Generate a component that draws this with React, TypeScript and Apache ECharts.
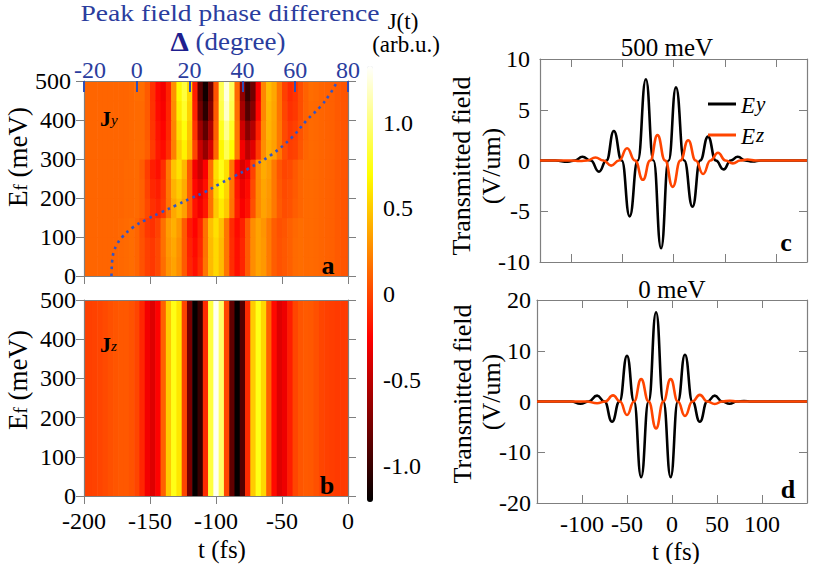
import React, { useEffect, useRef } from 'react';
import * as echarts from 'echarts';

const FONT = "'Liberation Serif', 'Times New Roman', serif";
const GRAY = '#7f7f7f';
const BLUE = '#2b3d9e';
const TICKBLUE = '#2f4fb8';
const ORANGE = '#ff4500';

// ---- heat-map grid (t in fs, Ef in meV) ----
const T_GRID = [-200,-196,-192,-188,-184,-180,-176,-172,-168,-164,-160,-156,-152,-148,-144,-140,-136,-132,-128,-124,-120,-116,-112,-108,-104,-100,-96,-92,-88,-84,-80,-76,-72,-68,-64,-60,-56,-52,-48,-44,-40,-36,-32,-28,-24,-20,-16,-12,-8,-4,0];
const EF_ROWS = [25, 75, 125, 175, 225, 275, 325, 375, 425, 475];

// Jz(t): same for every Ef
const JZ_ROW = [-0.02,-0.02,-0.01,0.0,0.02,0.04,0.06,0.07,0.07,0.05,0.0,-0.12,-0.3,-0.38,-0.25,0.1,0.5,0.75,0.6,0.0,-0.75,-1.2,-1.0,-0.1,0.85,1.3,0.95,0.0,-0.85,-1.2,-0.9,-0.1,0.5,0.75,0.55,0.1,-0.22,-0.38,-0.32,-0.15,0.0,0.06,0.08,0.07,0.04,0.0,-0.02,-0.03,-0.04,-0.04,-0.04];

// Jy(t) rows, one per Ef band
const JY_025 = [0.12,0.12,0.12,0.12,0.12,0.12,0.12,0.13,0.14,0.15,0.12,0.05,-0.02,-0.05,0.01,0.15,0.29,0.35,0.27,0.08,-0.12,-0.2,-0.09,0.18,0.44,0.55,0.44,0.18,-0.09,-0.2,-0.12,0.08,0.27,0.35,0.31,0.2,0.09,0.05,0.07,0.1,0.14,0.15,0.14,0.14,0.13,0.12,0.11,0.1,0.08,0.06,0.05];
const JY_075 = [0.12,0.12,0.12,0.12,0.12,0.12,0.12,0.13,0.14,0.15,0.12,0.05,-0.02,-0.05,0.01,0.16,0.31,0.37,0.28,0.08,-0.13,-0.22,-0.11,0.17,0.44,0.55,0.44,0.18,-0.09,-0.2,-0.12,0.08,0.27,0.35,0.31,0.2,0.09,0.05,0.07,0.1,0.14,0.15,0.14,0.14,0.13,0.12,0.11,0.1,0.08,0.06,0.05];
const JY_125 = [0.12,0.12,0.12,0.12,0.12,0.12,0.12,0.13,0.14,0.15,0.12,0.04,-0.05,-0.08,-0.01,0.16,0.33,0.4,0.31,0.08,-0.16,-0.25,-0.13,0.17,0.46,0.58,0.46,0.18,-0.1,-0.22,-0.14,0.07,0.27,0.35,0.3,0.2,0.09,0.04,0.06,0.1,0.13,0.15,0.14,0.14,0.13,0.12,0.11,0.1,0.08,0.06,0.05];
const JY_175 = [0.12,0.12,0.12,0.12,0.12,0.12,0.12,0.12,0.13,0.13,0.14,0.1,0.01,-0.08,-0.12,-0.04,0.17,0.37,0.45,0.34,0.08,-0.19,-0.3,-0.17,0.16,0.49,0.62,0.49,0.17,-0.15,-0.28,-0.19,0.04,0.26,0.35,0.3,0.19,0.08,0.03,0.05,0.09,0.12,0.14,0.14,0.13,0.12,0.11,0.1,0.08,0.06,0.05];
const JY_225 = [0.12,0.12,0.12,0.12,0.12,0.12,0.12,0.12,0.13,0.13,0.14,0.1,-0.01,-0.11,-0.15,-0.06,0.18,0.41,0.5,0.38,0.08,-0.23,-0.35,-0.2,0.17,0.53,0.68,0.53,0.18,-0.17,-0.32,-0.22,0.02,0.26,0.36,0.31,0.19,0.07,0.02,0.04,0.08,0.12,0.14,0.14,0.13,0.12,0.11,0.1,0.08,0.06,0.05];
const JY_275 = [0.12,0.12,0.12,0.12,0.12,0.12,0.12,0.12,0.13,0.13,0.14,0.09,-0.03,-0.15,-0.2,-0.09,0.19,0.47,0.58,0.43,0.07,-0.3,-0.45,-0.27,0.15,0.57,0.75,0.58,0.18,-0.23,-0.4,-0.29,-0.01,0.27,0.38,0.33,0.19,0.06,0.0,0.02,0.07,0.12,0.14,0.14,0.13,0.12,0.11,0.1,0.08,0.06,0.05];
const JY_325 = [0.12,0.12,0.12,0.12,0.12,0.12,0.12,0.12,0.12,0.13,0.14,0.14,0.09,-0.04,-0.17,-0.22,-0.09,0.22,0.52,0.65,0.46,0.0,-0.46,-0.65,-0.42,0.13,0.67,0.9,0.7,0.2,-0.3,-0.5,-0.37,-0.05,0.27,0.4,0.34,0.19,0.03,-0.03,-0.01,0.06,0.12,0.14,0.13,0.12,0.11,0.1,0.08,0.06,0.05];
const JY_375 = [0.12,0.12,0.12,0.12,0.12,0.12,0.12,0.12,0.12,0.13,0.14,0.14,0.08,-0.06,-0.19,-0.25,-0.11,0.24,0.58,0.72,0.49,-0.07,-0.62,-0.85,-0.57,0.1,0.77,1.05,0.79,0.18,-0.44,-0.7,-0.54,-0.14,0.26,0.42,0.35,0.19,0.02,-0.05,-0.02,0.05,0.11,0.14,0.13,0.12,0.11,0.1,0.08,0.06,0.05];
const JY_425 = [0.12,0.12,0.12,0.12,0.12,0.12,0.12,0.12,0.12,0.13,0.14,0.14,0.08,-0.07,-0.22,-0.28,-0.12,0.26,0.64,0.8,0.53,-0.13,-0.78,-1.05,-0.72,0.08,0.87,1.2,0.89,0.15,-0.59,-0.9,-0.71,-0.24,0.24,0.43,0.36,0.18,0.0,-0.08,-0.05,0.03,0.11,0.14,0.13,0.12,0.11,0.1,0.08,0.06,0.05];
const JY_475 = [0.12,0.12,0.12,0.12,0.12,0.12,0.12,0.12,0.12,0.13,0.15,0.15,0.08,-0.08,-0.23,-0.3,-0.13,0.28,0.68,0.85,0.56,-0.15,-0.86,-1.15,-0.8,0.05,0.9,1.25,0.92,0.13,-0.67,-1.0,-0.79,-0.28,0.24,0.45,0.37,0.18,-0.02,-0.1,-0.06,0.03,0.11,0.15,0.14,0.12,0.11,0.1,0.08,0.06,0.05];
const JY_ROWS = [JY_025, JY_075, JY_125, JY_175, JY_225, JY_275, JY_325, JY_375, JY_425, JY_475];

// dotted curve: [phase difference (deg), Ef (meV)]
const PHASE_CURVE = [[-9.6,0],[-9.5,20],[-9.3,40],[-8.8,60],[-7.6,80],[-5.5,100],[-1.6,124],[3.7,145],[9.2,163],[14.8,181],[20.4,199],[26,216],[31.3,236],[37,256],[42.2,275],[50.8,310],[58.7,355],[64.3,399],[69.5,434],[73.3,468],[76,500]];

// transmitted fields [t (fs), V/um]
const C_EY = [[-130,0],[-115,0],[-103,-0.12],[-96,0],[-88.7,0.37],[-80.6,0],[-72.6,-1.1],[-65.3,0],[-58.1,2.9],[-50.4,0],[-42.7,-5.5],[-34.8,0],[-26.9,8.0],[-19.5,0],[-12.1,-8.65],[-4.8,0],[2.4,7.2],[10.4,0],[18.5,-4.55],[26,0],[33.6,2.35],[41.2,0],[48.8,-0.87],[55.7,0],[62.6,0.37],[69.8,0],[77,-0.1],[85,0],[130,0]];
const C_EZ = [[-130,0],[-100,0],[-91,-0.05],[-84,0],[-76,0.3],[-68.2,0],[-60.7,-0.5],[-53,0],[-45.2,1.2],[-37.5,0],[-29.8,-1.9],[-22.7,0],[-15.6,2.5],[-8.2,0],[-0.8,-2.6],[6.8,0],[14.3,2.0],[21.6,0],[28.8,-1.33],[36,0],[43.3,0.77],[50.6,0],[57.8,-0.28],[65,0],[72,0.1],[80,0],[130,0]];
const D_EY = [[-150,0],[-112,0],[-101.7,-0.45],[-92.5,0],[-83.2,1.15],[-75,0],[-66.6,-4.0],[-58.3,0],[-50,9.0],[-42.2,0],[-34.3,-14.9],[-26,0],[-17.7,17.6],[-9.6,0],[-1.5,-14.9],[6.5,0],[14.4,9.2],[22.7,0],[30.9,-4.0],[39.2,0],[47.5,1.15],[55.8,0],[64,-0.45],[72,0],[80,0.08],[88,0],[150,0]];
const D_EZ = [[-150,0],[-95,0],[-83.2,-0.35],[-74.3,0],[-65.5,1.2],[-57.8,0],[-50,-2.65],[-42.2,0],[-34.3,4.4],[-26,0],[-17.7,-5.3],[-9.6,0],[-1.5,4.4],[6.5,0],[14.4,-2.85],[22.7,0],[30.9,1.3],[39.2,0],[47.5,-0.5],[55.8,0],[64,0.15],[72,0],[150,0]];

const CB_TICKS = [-1, -0.5, 0, 0.5, 1];
const RIGHT_T_TICKS = [-100, -50, 0, 50, 100];
const HOT = ['#000000', '#550000', '#aa0000', '#ff0000', '#ff5500', '#ffaa00', '#ffff00', '#ffff80', '#ffffff'];

function buildOption() {
  const jyData: number[][] = [];
  JY_ROWS.forEach((row, r) => row.forEach((v, i) => jyData.push([T_GRID[i], EF_ROWS[r], v, 25])));
  const jzData = JZ_ROW.map((v, i) => [T_GRID[i], 250, v, 250]);

  const cell = (params: any, api: any) => {
    const t = api.value(0), ef = api.value(1), h = api.value(3);
    const a = api.coord([t - 2, ef + h]);
    const b = api.coord([t + 2, ef - h]);
    return {
      type: 'rect',
      shape: { x: a[0], y: a[1], width: b[0] - a[0] + 0.6, height: b[1] - a[1] + 0.6 },
      style: { fill: api.visual('color') },
    };
  };

  const line = (show = true) => ({ show, onZero: false, lineStyle: { color: GRAY, width: 1.2 } });
  const tick = (inside: boolean, length: number, extra: any = {}) => ({ show: true, inside, length, lineStyle: { color: GRAY, width: 1 }, ...extra });
  const lab = (margin: number, extra: any = {}) => ({ show: true, margin, fontSize: 24, lineHeight: 18, fontFamily: FONT, color: '#000', showMinLabel: true, showMaxLabel: true, ...extra });
  const noLab = { show: false };
  const noSplit = { show: false };

  const txt = (x: number, y: number, text: string, style: any = {}, extra: any = {}) => ({
    type: 'text', x, y, silent: true, z: 100, ...extra,
    style: { text, fontFamily: FONT, fontSize: 25, lineHeight: 20, fill: '#000', align: 'center', verticalAlign: 'middle', ...style },
  });

  const efRich = {
    e: { fontFamily: FONT, fontSize: 27, lineHeight: 26, verticalAlign: 'top', fill: '#000' },
    s: { fontFamily: FONT, fontSize: 19, lineHeight: 18, padding: [14, 0, 0, 0], verticalAlign: 'bottom', fill: '#000' },
  };
  const jRich = {
    j: { fontFamily: FONT, fontSize: 22, fontWeight: 'bold', lineHeight: 20, verticalAlign: 'top', fill: '#000' },
    s: { fontFamily: FONT, fontSize: 15, fontStyle: 'italic', lineHeight: 14, padding: [17, 0, 0, 0], verticalAlign: 'bottom', fill: '#000' },
  };

  // corner labels of panel a nudged apart so "-20" and "500" do not collide
  const topLabel = lab(2, {
    color: BLUE,
    formatter: (v: number) => (v === -20 ? '{m|-20}' : String(v)),
    rich: { m: { fontFamily: FONT, fontSize: 24, lineHeight: 18, color: BLUE, padding: [0, 0, 0, 12] } },
  });
  const leftLabelA = lab(8, {
    formatter: (v: number) => (v === 500 ? '{p|500}' : String(v)),
    rich: { p: { fontFamily: FONT, fontSize: 24, lineHeight: 18, color: '#000', padding: [0, 5, 0, 0] } },
  });

  return {
    animation: false,
    backgroundColor: '#ffffff',
    textStyle: { fontFamily: FONT },
    grid: [
      { left: 84, top: 81, width: 264, height: 195, outerBoundsMode: 'none' },
      { left: 84, top: 300, width: 264, height: 196, outerBoundsMode: 'none' },
      { left: 540, top: 59, width: 267, height: 203, outerBoundsMode: 'none' },
      { left: 537, top: 300, width: 270, height: 203, outerBoundsMode: 'none' },
      { left: 367, top: 66, width: 6, height: 436, outerBoundsMode: 'none' },
    ],
    xAxis: [
      { gridIndex: 0, type: 'value', min: -200, max: 0, interval: 50, position: 'bottom', z: 10, axisLine: line(), axisTick: tick(false, 8), axisLabel: noLab, splitLine: noSplit },
      { gridIndex: 0, type: 'value', min: -20, max: 80, interval: 20, position: 'top', z: 10, axisLine: line(), axisTick: { show: true, inside: true, length: 11, lineStyle: { color: TICKBLUE, width: 2 } }, axisLabel: topLabel, splitLine: noSplit },
      { gridIndex: 1, type: 'value', min: -200, max: 0, interval: 50, position: 'bottom', z: 10, axisLine: line(), axisTick: tick(false, 8), axisLabel: lab(16), splitLine: noSplit },
      { gridIndex: 1, type: 'value', min: -200, max: 0, interval: 50, position: 'top', z: 10, axisLine: line(), axisTick: { show: false }, axisLabel: noLab, splitLine: noSplit },
      { gridIndex: 2, type: 'value', min: -130, max: 130, position: 'bottom', axisLine: line(), axisTick: tick(true, 8, { customValues: RIGHT_T_TICKS }), axisLabel: noLab, splitLine: noSplit },
      { gridIndex: 2, type: 'value', min: -130, max: 130, position: 'top', axisLine: line(), axisTick: tick(true, 8, { customValues: RIGHT_T_TICKS }), axisLabel: noLab, splitLine: noSplit },
      { gridIndex: 3, type: 'value', min: -150, max: 150, position: 'bottom', axisLine: line(), axisTick: tick(true, 8, { customValues: RIGHT_T_TICKS }), axisLabel: lab(12, { customValues: RIGHT_T_TICKS }), splitLine: noSplit },
      { gridIndex: 3, type: 'value', min: -150, max: 150, position: 'top', axisLine: line(), axisTick: tick(true, 8, { customValues: RIGHT_T_TICKS }), axisLabel: noLab, splitLine: noSplit },
      { gridIndex: 4, type: 'value', min: 0, max: 1, show: false },
    ],
    yAxis: [
      { gridIndex: 0, type: 'value', min: 0, max: 500, interval: 100, position: 'left', z: 10, axisLine: line(), axisTick: tick(false, 8), axisLabel: leftLabelA, splitLine: noSplit },
      { gridIndex: 0, type: 'value', min: 0, max: 500, interval: 100, position: 'right', z: 10, axisLine: line(), axisTick: tick(false, 8), axisLabel: noLab, splitLine: noSplit },
      { gridIndex: 1, type: 'value', min: 0, max: 500, interval: 100, position: 'left', z: 10, axisLine: line(), axisTick: tick(false, 8), axisLabel: lab(8), splitLine: noSplit },
      { gridIndex: 1, type: 'value', min: 0, max: 500, interval: 100, position: 'right', z: 10, axisLine: line(), axisTick: tick(false, 8), axisLabel: noLab, splitLine: noSplit },
      { gridIndex: 2, type: 'value', min: -10, max: 10, interval: 5, position: 'left', axisLine: line(), axisTick: tick(true, 8), axisLabel: lab(10), splitLine: noSplit },
      { gridIndex: 2, type: 'value', min: -10, max: 10, interval: 5, position: 'right', axisLine: line(), axisTick: tick(true, 8), axisLabel: noLab, splitLine: noSplit },
      { gridIndex: 3, type: 'value', min: -20, max: 20, interval: 10, position: 'left', axisLine: line(), axisTick: tick(true, 8), axisLabel: lab(6), splitLine: noSplit },
      { gridIndex: 3, type: 'value', min: -20, max: 20, interval: 10, position: 'right', axisLine: line(), axisTick: tick(true, 8), axisLabel: noLab, splitLine: noSplit },
      { gridIndex: 4, type: 'value', min: -1.21, max: 1.33, position: 'right', axisLine: { show: false },
        axisTick: tick(false, 4, { customValues: CB_TICKS }),
        axisLabel: lab(10, { customValues: CB_TICKS, formatter: (v: number) => (v === 0 ? '0' : v.toFixed(1)) }), splitLine: noSplit },
    ],
    visualMap: {
      type: 'continuous', min: -1.21, max: 1.33, dimension: 2, seriesIndex: [0, 1],
      inRange: { color: HOT }, show: true, calculable: false, hoverLink: false,
      left: 367, top: 66, itemWidth: 6, itemHeight: 436, padding: 0, orient: 'vertical',
    },
    legend: {
      data: ['Ey', 'Ez'], orient: 'vertical', left: 708, top: 86, itemWidth: 28, itemHeight: 3, itemGap: 0,
      icon: 'rect', padding: 0, selectedMode: false,
      formatter: (n: string) => (n === 'Ey' ? '{e|E}{s|y}' : '{e|E}{s|z}'),
      textStyle: {
        fontFamily: FONT, color: '#000',
        rich: {
          e: { fontFamily: FONT, fontSize: 23, fontStyle: 'italic', lineHeight: 20, verticalAlign: 'top', color: '#000' },
          s: { fontFamily: FONT, fontSize: 21, fontStyle: 'italic', lineHeight: 18, padding: [7, 0, 0, 1], verticalAlign: 'bottom', color: '#000' },
        },
      },
    },
    series: [
      { type: 'custom', name: 'Jy', xAxisIndex: 0, yAxisIndex: 0, renderItem: cell, data: jyData, encode: { x: 0, y: 1 }, clip: true, silent: true },
      { type: 'custom', name: 'Jz', xAxisIndex: 2, yAxisIndex: 2, renderItem: cell, data: jzData, encode: { x: 0, y: 1 }, clip: true, silent: true },
      { type: 'line', name: 'phase', xAxisIndex: 1, yAxisIndex: 0, data: PHASE_CURVE, smooth: 0.4, showSymbol: false, z: 5,
        lineStyle: { color: '#3154c8', width: 2.6, type: [2.6, 4.2], cap: 'butt' } },
      { type: 'line', name: 'Ey', xAxisIndex: 4, yAxisIndex: 4, data: C_EY, smooth: 0.5, smoothMonotone: 'x', showSymbol: false, lineStyle: { color: '#000', width: 2.6 }, itemStyle: { color: '#000' } },
      { type: 'line', name: 'Ez', xAxisIndex: 4, yAxisIndex: 4, data: C_EZ, smooth: 0.5, smoothMonotone: 'x', showSymbol: false, lineStyle: { color: ORANGE, width: 2.6 }, itemStyle: { color: ORANGE } },
      { type: 'line', name: 'Ey', xAxisIndex: 6, yAxisIndex: 6, data: D_EY, smooth: 0.5, smoothMonotone: 'x', showSymbol: false, lineStyle: { color: '#000', width: 2.6 }, itemStyle: { color: '#000' } },
      { type: 'line', name: 'Ez', xAxisIndex: 6, yAxisIndex: 6, data: D_EZ, smooth: 0.5, smoothMonotone: 'x', showSymbol: false, lineStyle: { color: ORANGE, width: 2.6 }, itemStyle: { color: ORANGE } },
    ],
    graphic: {
      elements: [
        txt(230, 13, 'Peak field phase difference', { fontSize: 23, lineHeight: 20, fill: BLUE }, { scaleX: 1.2 }),
        txt(228, 42, '{d|Δ}{n| (degree)}', {
          rich: {
            d: { fontFamily: FONT, fontSize: 27, lineHeight: 24, fill: '#1f1f8f', fontWeight: 'bold' },
            n: { fontFamily: FONT, fontSize: 25, lineHeight: 24, fill: BLUE },
          },
        }, { scaleX: 1.08 }),
        txt(403, 21, 'J(t)', { fontSize: 23 }),
        txt(406, 44, '(arb.u.)', { fontSize: 23 }),
        txt(100, 117.5, '{j|J}{s|y}', { rich: jRich, align: 'left' }),
        txt(100, 343.5, '{j|J}{s|z}', { rich: jRich, align: 'left' }),
        txt(328, 265, 'a', { fontWeight: 'bold', fontSize: 26 }),
        txt(327, 485, 'b', { fontWeight: 'bold', fontSize: 26 }),
        txt(786, 242, 'c', { fontWeight: 'bold', fontSize: 26 }),
        txt(788, 489, 'd', { fontWeight: 'bold', fontSize: 26 }),
        txt(17, 157, '{e|E}{s|f}{e| (meV)}', { rich: efRich }, { rotation: Math.PI / 2 }),
        txt(17, 380, '{e|E}{s|f}{e| (meV)}', { rich: efRich }, { rotation: Math.PI / 2 }),
        txt(461, 166, 'Transmitted field', { fontSize: 26, lineHeight: 24 }, { rotation: Math.PI / 2 }),
        txt(491, 166, '(V/um)', { fontSize: 26, lineHeight: 24 }, { rotation: Math.PI / 2 }),
        txt(462, 394, 'Transmitted field', { fontSize: 26, lineHeight: 24 }, { rotation: Math.PI / 2 }),
        txt(491, 392, '(V/um)', { fontSize: 26, lineHeight: 24 }, { rotation: Math.PI / 2 }),
        txt(667, 47, '500 meV'),
        txt(672, 289, '0 meV'),
        txt(222, 549, 't (fs)'),
        txt(676, 551, 't (fs)'),
      ],
    },
  };
}

export default function App() {
  const ref = useRef<HTMLDivElement>(null);
  useEffect(() => {
    if (!ref.current) return;
    const chart = echarts.init(ref.current, null, { renderer: 'svg' });
    chart.setOption(buildOption() as any);
    return () => chart.dispose();
  }, []);
  return (
    <div
      ref={ref}
      style={{ position: 'absolute', left: 0, top: 0, width: 830, height: 564, background: '#ffffff' }}
    />
  );
}
